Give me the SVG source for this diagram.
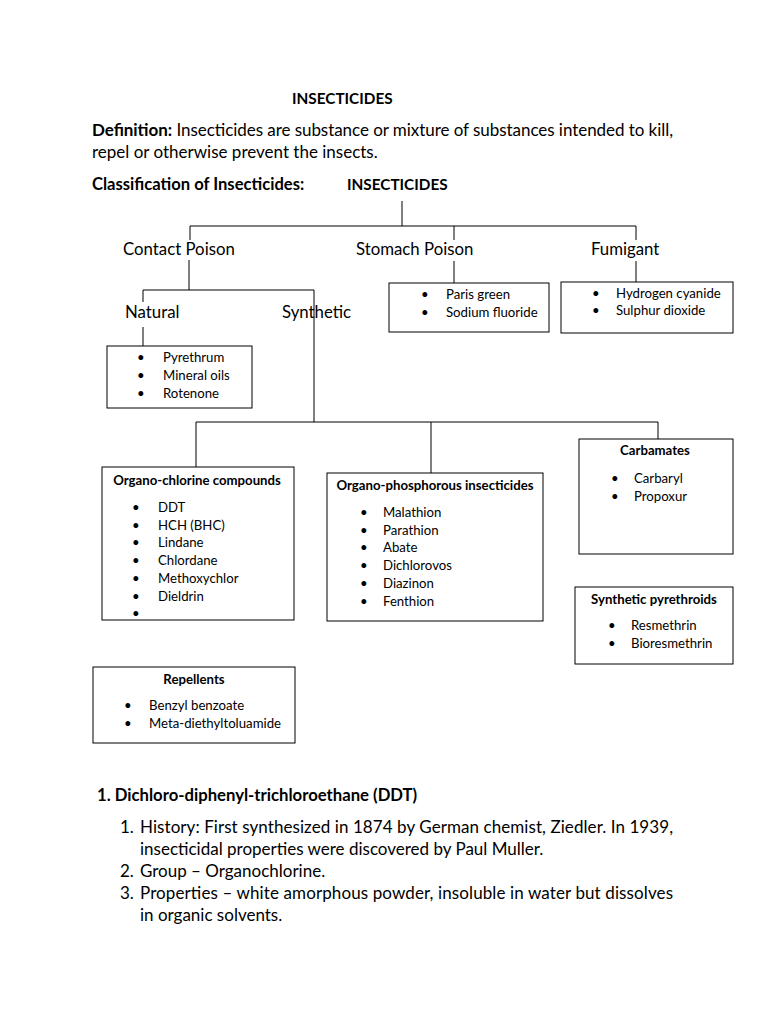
<svg xmlns="http://www.w3.org/2000/svg" width="768" height="1024" viewBox="0 0 768 1024">
<style>
text{font-family:Lato,"Liberation Sans",sans-serif;fill:#000}
.b{font-weight:bold}
.cap{font-size:15.3px;font-weight:bold}
.t{font-size:17px}
.l{font-size:16.8px}
.i{font-size:13.2px}
.h{font-size:13.2px;font-weight:bold}
.box{fill:#fff;stroke:#000;stroke-width:1}
.c{fill:none;stroke:#000;stroke-width:1}
</style>
<rect width="768" height="1024" fill="#fff"/>
<text class="cap" x="292" y="104">INSECTICIDES</text>
<text class="t" x="92" y="136" textLength="581" lengthAdjust="spacing"><tspan class="b">Definition:</tspan> Insecticides are substance or mixture of substances intended to kill,</text>
<text class="t" x="92" y="158">repel or otherwise prevent the insects.</text>
<text class="b" style="font-size:16.6px" x="92" y="190">Classification of Insecticides:</text>
<text class="cap" x="347" y="190">INSECTICIDES</text>

<g id="connectors">
<path class="c" d="M402 201V226M190 226H636M190 226V240M454 226V240M636 226V240"/>
<path class="c" d="M454 261V283M636 261V282"/>
<path class="c" d="M189 260V290M143 290H314M143 290V302M143 327V346M314 290V422"/>
<path class="c" d="M196 422H658M196 422V467M431 422V473M658 422V439"/>
</g>

<g id="contact"><text class="l" x="123" y="255">Contact Poison</text></g>
<g id="stomach"><text class="l" x="356" y="255">Stomach Poison</text></g>
<g id="fumigant"><text class="l" x="591" y="255">Fumigant</text></g>
<g id="natural"><text class="l" x="125" y="318">Natural</text></g>
<g id="synthetic"><text class="l" x="282" y="318">Synthetic</text></g>

<g id="stomach-list">
<rect class="box" x="389" y="283" width="160" height="49"/>
<text class="i" x="421" y="299">•</text><text class="i" x="446" y="299">Paris green</text>
<text class="i" x="421" y="317">•</text><text class="i" x="446" y="317">Sodium fluoride</text>
</g>
<g id="fumigant-list">
<rect class="box" x="561" y="282" width="172" height="51"/>
<text class="i" x="592" y="298">•</text><text class="i" x="616" y="298">Hydrogen cyanide</text>
<text class="i" x="592" y="315">•</text><text class="i" x="616" y="315">Sulphur dioxide</text>
</g>
<g id="natural-list">
<rect class="box" x="107" y="346" width="145" height="62"/>
<text class="i" x="137" y="362">•</text><text class="i" x="163" y="362">Pyrethrum</text>
<text class="i" x="137" y="380">•</text><text class="i" x="163" y="380">Mineral oils</text>
<text class="i" x="137" y="398">•</text><text class="i" x="163" y="398">Rotenone</text>
</g>
<g id="organochlorine">
<rect class="box" x="102" y="467" width="192" height="153"/>
<text class="h" x="197" y="485" text-anchor="middle">Organo-chlorine compounds</text>
<text class="i" x="132" y="512">•</text><text class="i" x="158" y="512">DDT</text>
<text class="i" x="132" y="530">•</text><text class="i" x="158" y="530">HCH (BHC)</text>
<text class="i" x="132" y="547">•</text><text class="i" x="158" y="547">Lindane</text>
<text class="i" x="132" y="565">•</text><text class="i" x="158" y="565">Chlordane</text>
<text class="i" x="132" y="583">•</text><text class="i" x="158" y="583">Methoxychlor</text>
<text class="i" x="132" y="601">•</text><text class="i" x="158" y="601">Dieldrin</text>
<text class="i" x="132" y="618">•</text>
</g>
<g id="organophosphorous">
<rect class="box" x="327" y="473" width="216" height="148"/>
<text class="h" x="435" y="490" text-anchor="middle">Organo-phosphorous insecticides</text>
<text class="i" x="360" y="517">•</text><text class="i" x="383" y="517">Malathion</text>
<text class="i" x="360" y="535">•</text><text class="i" x="383" y="535">Parathion</text>
<text class="i" x="360" y="552">•</text><text class="i" x="383" y="552">Abate</text>
<text class="i" x="360" y="570">•</text><text class="i" x="383" y="570">Dichlorovos</text>
<text class="i" x="360" y="588">•</text><text class="i" x="383" y="588">Diazinon</text>
<text class="i" x="360" y="606">•</text><text class="i" x="383" y="606">Fenthion</text>
</g>
<g id="carbamates">
<rect class="box" x="579" y="439" width="154" height="115"/>
<text class="h" x="655" y="455" text-anchor="middle">Carbamates</text>
<text class="i" x="611" y="483">•</text><text class="i" x="634" y="483">Carbaryl</text>
<text class="i" x="611" y="501">•</text><text class="i" x="634" y="501">Propoxur</text>
</g>
<g id="pyrethroids">
<rect class="box" x="575" y="587" width="158" height="77"/>
<text class="h" x="654" y="604" text-anchor="middle">Synthetic pyrethroids</text>
<text class="i" x="608" y="630">•</text><text class="i" x="631" y="630">Resmethrin</text>
<text class="i" x="608" y="648">•</text><text class="i" x="631" y="648">Bioresmethrin</text>
</g>
<g id="repellents">
<rect class="box" x="93" y="667" width="202" height="76"/>
<text class="h" x="194" y="684" text-anchor="middle">Repellents</text>
<text class="i" x="124" y="710">•</text><text class="i" x="149" y="710">Benzyl benzoate</text>
<text class="i" x="124" y="728">•</text><text class="i" x="149" y="728">Meta-diethyltoluamide</text>
</g>

<text class="b" style="font-size:16.7px" x="97" y="801">1. Dichloro-diphenyl-trichloroethane (DDT)</text>
<text class="t" x="120" y="833">1.</text>
<text class="t" x="140" y="833" textLength="533" lengthAdjust="spacing">History: First synthesized in 1874 by German chemist, Ziedler. In 1939,</text>
<text class="t" x="140" y="855">insecticidal properties were discovered by Paul Muller.</text>
<text class="t" x="120" y="877">2.</text>
<text class="t" x="140" y="877">Group – Organochlorine.</text>
<text class="t" x="120" y="899">3.</text>
<text class="t" x="140" y="899" textLength="533" lengthAdjust="spacing">Properties – white amorphous powder, insoluble in water but dissolves</text>
<text class="t" x="140" y="921">in organic solvents.</text>
</svg>
